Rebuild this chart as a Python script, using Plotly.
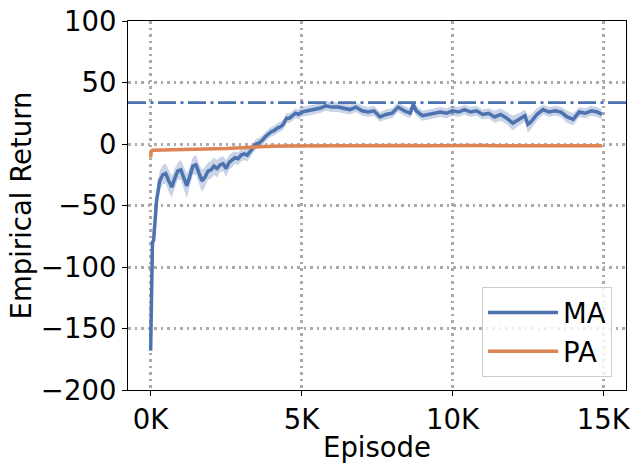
import plotly.graph_objects as go

# ---- data ----
ma_episode = [0, 30, 60, 100, 150, 200, 250, 300, 400, 500, 600, 700, 800, 900, 1000,
              1100, 1200, 1300, 1400, 1500, 1600, 1700, 1800, 1900, 2000, 2100, 2200,
              2300, 2400, 2500, 2600, 2700, 2800, 2900, 3000, 3100, 3200, 3300, 3400,
              3500, 3600, 3700, 3800, 3900, 4000, 4100, 4200, 4300, 4400, 4500, 4600,
              4700, 4800, 4900, 5000, 5200, 5400, 5600, 5800, 6000, 6200, 6400, 6600,
              6800, 7000, 7200, 7400, 7600, 7800, 8000, 8200, 8400, 8600, 8700, 8800,
              9000, 9200, 9400, 9600, 9800, 10000, 10200, 10400, 10600, 10800, 11000,
              11200, 11400, 11600, 11800, 12000, 12200, 12400, 12500, 12600, 12800,
              13000, 13200, 13400, 13600, 13800, 14000, 14200, 14400, 14600, 14800, 14950]
ma_return = [-168, -120, -80, -78, -60, -45, -38, -30, -25, -24, -30, -35, -28, -22, -21,
             -28, -34, -26, -18, -17, -24, -30, -27, -22, -21, -18, -20,
             -17, -16, -20, -15, -13, -11, -12, -9, -8, -9, -6, -3,
             0, 1, 3, 6, 8, 10, 11, 13, 14, 16, 21, 21,
             23, 25, 24, 26, 27, 28, 29, 31, 30, 30, 29, 28,
             30, 27, 26, 27, 22, 24, 25, 30, 27, 25, 32, 27,
             23, 24, 25, 26, 25, 27, 26, 28, 26, 27, 24,
             25, 22, 24, 21, 17, 20, 23, 16, 18, 24,
             28, 26, 27, 26, 22, 20, 26, 25, 27, 26, 24]
ma_spread = [3, 8, 12, 12, 10, 9, 9, 8, 8, 8, 9, 9, 8, 7, 8,
             9, 10, 8, 7, 8, 8, 9, 8, 7, 7, 7, 7,
             6, 6, 7, 6, 6, 5, 5, 5, 5, 5, 5, 4,
             4, 4, 4, 4, 4, 4, 4, 4, 4, 4, 4, 4,
             4, 4, 4, 4, 4, 4, 4, 4, 4, 4, 4, 4,
             4, 4, 4, 4, 4, 4, 4, 4, 4, 4, 4, 4,
             4, 4, 4, 4, 4, 4, 4, 4, 4, 4, 4,
             4, 5, 5, 5, 6, 5, 5, 7, 6, 5,
             4, 4, 4, 4, 5, 5, 4, 4, 4, 4, 4]

pa_episode = [0, 20, 60, 500, 1000, 1500, 2000, 2500, 3000, 3500, 4000, 4500, 5000,
              5500, 6000, 6500, 7000, 7500, 8000, 8500, 9000, 9500, 10000, 10500,
              11000, 11500, 12000, 12500, 13000, 13500, 14000, 14500, 14950]
pa_return = [-11, -6, -5, -4.8, -4.6, -4.4, -4.2, -3.6, -3.0, -2.2, -1.8, -1.6, -1.5,
             -1.6, -1.4, -1.5, -1.3, -1.5, -1.4, -1.2, -1.5, -1.3, -1.6, -1.4,
             -1.3, -1.5, -1.4, -1.3, -1.5, -1.4, -1.3, -1.5, -1.4]

reference_return = 33.6

x_ticks = [0, 5000, 10000, 15000]
x_tick_labels = ["0K", "5K", "10K", "15K"]
y_ticks = [-200, -150, -100, -50, 0, 50, 100]

BLUE = "#4c72b0"
ORANGE = "#dd8452"
FS = 27.5

ma_upper = [m + s for m, s in zip(ma_return, ma_spread)]
ma_lower = [m - s for m, s in zip(ma_return, ma_spread)]

fig = go.Figure()
fig.add_trace(go.Scatter(x=ma_episode, y=ma_upper, mode="lines", line=dict(width=0),
                         showlegend=False, hoverinfo="skip"))
fig.add_trace(go.Scatter(x=ma_episode, y=ma_lower, mode="lines", line=dict(width=0),
                         fill="tonexty", fillcolor="rgba(76,114,176,0.3)",
                         showlegend=False, hoverinfo="skip"))
fig.add_trace(go.Scatter(x=ma_episode, y=ma_return, mode="lines", name="MA",
                         line=dict(color=BLUE, width=3.5)))
fig.add_trace(go.Scatter(x=pa_episode, y=pa_return, mode="lines", name="PA",
                         line=dict(color=ORANGE, width=3.5)))
fig.add_hline(y=reference_return, line=dict(color=BLUE, width=2.6, dash="18px,4.5px,3px,4.5px"))

axis_common = dict(
    showline=True, linecolor="black", linewidth=1.2, mirror=True,
    ticks="outside", ticklen=5, tickwidth=1.2, tickcolor="black",
    showgrid=True, gridcolor="#aaaaaa", gridwidth=2.5, griddash="2.5px,4px",
    zeroline=False, tickfont=dict(size=FS, color="black"), automargin=False,
)
fig.update_xaxes(range=[-750, 15750], tickvals=x_ticks, ticktext=x_tick_labels,
                 **axis_common)
fig.update_yaxes(range=[-200, 100], tickvals=y_ticks,
                 title=dict(text="Empirical Return", font=dict(size=FS, color="black"), standoff=1),
                 **axis_common)

fig.add_annotation(text="Episode", xref="paper", yref="paper", x=0.5, y=-0.1545,
                   xanchor="center", yanchor="middle", showarrow=False,
                   font=dict(size=FS, color="black"))

fig.update_layout(
    template="none",
    width=642, height=471,
    margin=dict(l=128, r=16, t=21, b=81, pad=0),
    plot_bgcolor="white", paper_bgcolor="white",
    font=dict(family="DejaVu Sans", color="black"),
    legend=dict(x=0.972, y=0.035, xanchor="right", yanchor="bottom", traceorder="normal",
                bgcolor="rgba(255,255,255,0.8)", bordercolor="#cccccc", borderwidth=1,
                font=dict(size=FS), itemwidth=70, tracegroupgap=6),
)

fig.write_html("out.html", config={"displayModeBar": False},
               post_script="document.body.style.margin='0';")
